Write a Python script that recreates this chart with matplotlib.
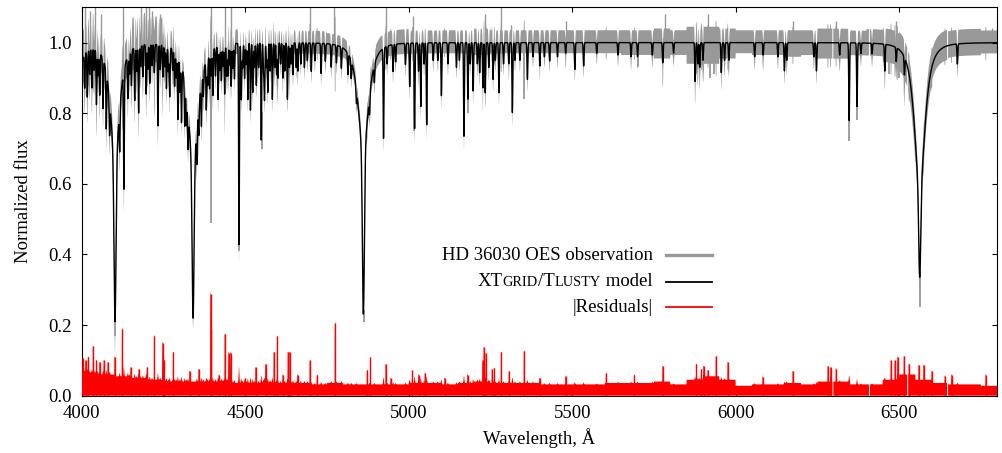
import numpy as np
import matplotlib.pyplot as plt
from matplotlib.lines import Line2D
from matplotlib.offsetbox import TextArea, HPacker, DrawingArea, AnchoredOffsetbox

plt.rcParams['font.family'] = ['Liberation Serif', 'DejaVu Serif']
plt.rcParams['font.size'] = 13.5

# Balmer lines: centre, wing depth / half width, core depth / sigma
balmer_wl = [3970.1, 4101.7, 4340.5, 4861.3, 6562.8]
balmer_wing = [0.25, 0.32, 0.32, 0.30, 0.41]
balmer_wwid = [22.0, 22.0, 26.0, 25.0, 24.7]
balmer_core = [0.30, 0.47, 0.46, 0.47, 0.255]
balmer_csig = [3.0, 3.0, 3.0, 3.0, 3.0]

# metal / helium lines of the model (centre, depth)
metal_wl = [4009, 4017, 4024, 4031, 4038, 4045, 4050, 4055, 4065, 4075, 4085,
            4116, 4129, 4141, 4146, 4152, 4162, 4168, 4174, 4180, 4187, 4197,
            4202, 4208, 4215, 4222, 4233, 4240, 4248, 4254, 4259, 4265, 4269,
            4278, 4284, 4289, 4294, 4300, 4305, 4315, 4320, 4325, 4352, 4358,
            4366, 4372, 4381, 4385, 4391, 4396, 4401, 4409, 4417, 4422, 4427,
            4432, 4437, 4443, 4447, 4452, 4457, 4462, 4467, 4481, 4488, 4492,
            4498, 4503, 4508, 4516, 4523, 4528, 4534, 4541, 4549, 4556, 4559,
            4565, 4569, 4576, 4583, 4590, 4596, 4600, 4608, 4615, 4621, 4629,
            4635, 4640, 4646, 4656, 4661, 4670, 4681, 4690, 4702, 4713, 4732,
            4745, 4763, 4779, 4794, 4814, 4824, 4840, 4880, 4895, 4923, 4934,
            4952, 4960, 4990, 5003, 5018, 5030, 5037, 5047, 5055, 5075, 5089,
            5100, 5120, 5146, 5155, 5169, 5181, 5188, 5197, 5210, 5217, 5227,
            5234, 5245, 5258, 5265, 5276, 5290, 5306, 5317, 5325, 5340, 5363,
            5380, 5401, 5415, 5431, 5455, 5480, 5508, 5535, 5575, 5640, 5680,
            5700, 5745, 5777, 5810, 5876, 5884, 5890, 5900, 5956, 5966, 5979,
            6058, 6084, 6129, 6149, 6156, 6239, 6247, 6318, 6347, 6371, 6383,
            6417, 6456, 6491, 6516, 6678]
metal_depth = [0.095, 0.13, 0.07, 0.11, 0.06, 0.155, 0.07, 0.12, 0.14, 0.16, 0.10,
               0.12, 0.335, 0.12, 0.06, 0.10, 0.15, 0.07, 0.19, 0.06, 0.09, 0.14,
               0.07, 0.11, 0.06, 0.08, 0.23, 0.07, 0.09, 0.06, 0.12, 0.07, 0.14,
               0.06, 0.10, 0.07, 0.18, 0.09, 0.16, 0.12, 0.08, 0.10, 0.10, 0.08,
               0.12, 0.07, 0.14, 0.08, 0.10, 0.07, 0.13, 0.08, 0.15, 0.07, 0.10,
               0.06, 0.14, 0.09, 0.09, 0.06, 0.12, 0.07, 0.10, 0.57, 0.16, 0.07,
               0.10, 0.06, 0.16, 0.19, 0.14, 0.07, 0.12, 0.07, 0.275, 0.08, 0.16,
               0.07, 0.14, 0.08, 0.16, 0.07, 0.09, 0.10, 0.06, 0.10, 0.08, 0.16,
               0.07, 0.06, 0.09, 0.07, 0.08, 0.06, 0.07, 0.05, 0.08, 0.05, 0.085,
               0.05, 0.065, 0.05, 0.06, 0.06, 0.05, 0.04, 0.05, 0.05, 0.255, 0.05,
               0.076, 0.05, 0.06, 0.123, 0.242, 0.08, 0.18, 0.06, 0.232, 0.05, 0.05,
               0.15, 0.06, 0.07, 0.05, 0.265, 0.16, 0.06, 0.137, 0.06, 0.085, 0.128,
               0.142, 0.07, 0.104, 0.05, 0.142, 0.06, 0.06, 0.198, 0.05, 0.05, 0.104,
               0.04, 0.066, 0.04, 0.052, 0.04, 0.03, 0.076, 0.066, 0.03, 0.035, 0.04,
               0.04, 0.035, 0.057, 0.03, 0.11, 0.06, 0.07, 0.05, 0.085, 0.05, 0.05,
               0.04, 0.035, 0.04, 0.08, 0.05, 0.04, 0.08, 0.035, 0.22, 0.18, 0.03,
               0.03, 0.076, 0.04, 0.05, 0.057]
metal_sigma = 1.2

# typical |residual| level in 50 A bins, 4000 ... 6800
res_env = [0.065, 0.060, 0.055, 0.050, 0.045, 0.040, 0.040, 0.040, 0.040, 0.036,
           0.036, 0.038, 0.036, 0.036, 0.032, 0.036, 0.032, 0.032, 0.032, 0.032,
           0.036, 0.036, 0.032, 0.036, 0.040, 0.036, 0.036, 0.036, 0.032, 0.032,
           0.032, 0.032, 0.036, 0.036, 0.036, 0.040, 0.032, 0.045, 0.055, 0.045,
           0.028, 0.032, 0.032, 0.036, 0.032, 0.040, 0.040, 0.032, 0.032, 0.045,
           0.060, 0.045, 0.036, 0.032, 0.032, 0.028]

# spread of the observation above / below the model, same 50 A bins
obs_hi = [0.08, 0.06, 0.06, 0.09, 0.08, 0.05, 0.035, 0.05, 0.045, 0.04,
          0.04, 0.04, 0.035, 0.035, 0.035, 0.03, 0.03, 0.035, 0.04, 0.04,
          0.035, 0.035, 0.035, 0.035, 0.04, 0.035, 0.035, 0.035, 0.035, 0.035,
          0.035, 0.035, 0.035, 0.035, 0.035, 0.04, 0.035, 0.045, 0.045, 0.04,
          0.035, 0.035, 0.035, 0.035, 0.035, 0.04, 0.04, 0.035, 0.04, 0.045,
          0.05, 0.05, 0.045, 0.04, 0.04, 0.035]
obs_lo = [0.07, 0.05, 0.05, 0.06, 0.05, 0.04, 0.03, 0.04, 0.035, 0.03,
          0.03, 0.03, 0.03, 0.03, 0.03, 0.03, 0.025, 0.03, 0.03, 0.03,
          0.03, 0.03, 0.03, 0.03, 0.035, 0.03, 0.03, 0.03, 0.03, 0.03,
          0.03, 0.03, 0.03, 0.035, 0.035, 0.045, 0.035, 0.06, 0.06, 0.045,
          0.03, 0.035, 0.035, 0.04, 0.035, 0.045, 0.045, 0.035, 0.035, 0.05,
          0.06, 0.05, 0.04, 0.035, 0.035, 0.03]

# isolated residual spikes
spike_wl = [4003, 4012, 4020, 4035, 4045, 4055, 4068, 4080, 4101, 4124, 4150, 4175,
            4200, 4222, 4247, 4252, 4280, 4330, 4358, 4394, 4396, 4420, 4438, 4449,
            4455, 4500, 4532, 4562, 4588, 4598, 4615, 4631, 4636, 4660, 4698, 4720,
            4775, 4873, 4883, 4930, 4945, 5011, 5030, 5050, 5110, 5180, 5226, 5230,
            5236, 5255, 5262, 5283, 5307, 5353, 5400, 5480, 5604, 5690, 5777, 5880,
            5895, 5902, 5915, 5940, 5976, 6083, 6175, 6282, 6290, 6307, 6475, 6487,
            6495, 6515, 6530, 6560, 6575, 6600, 6640, 6660, 6765]
spike_res = [0.106, 0.10, 0.11, 0.14, 0.10, 0.095, 0.10, 0.095, 0.11, 0.19, 0.08, 0.075,
             0.08, 0.17, 0.15, 0.10, 0.124, 0.07, 0.075, 0.289, 0.19, 0.06, 0.175, 0.122,
             0.122, 0.05, 0.08, 0.09, 0.124, 0.168, 0.06, 0.124, 0.124, 0.06, 0.10, 0.06,
             0.205, 0.073, 0.109, 0.09, 0.05, 0.072, 0.06, 0.065, 0.05, 0.06, 0.10, 0.137,
             0.12, 0.075, 0.078, 0.124, 0.07, 0.127, 0.05, 0.055, 0.065, 0.06, 0.084, 0.09,
             0.075, 0.084, 0.073, 0.112, 0.095, 0.054, 0.07, 0.084, 0.08, 0.077, 0.10, 0.10,
             0.11, 0.112, 0.09, 0.087, 0.087, 0.07, 0.057, 0.06, 0.06]

# observed points far above the model (cosmics) and below it
up_wl = [4010, 4025, 4040, 4060, 4126, 4180, 4195, 4205, 4215, 4240, 4395, 4438,
         4456, 4697, 4773, 4932, 5012, 5232, 5283, 5312, 5482, 5783, 5914, 6174,
         6306, 6490, 6785]
up_flux = [1.10, 1.09, 1.10, 1.08, 1.10, 1.10, 1.10, 1.10, 1.09, 1.08, 1.10, 1.10,
           1.10, 1.10, 1.10, 1.10, 1.075, 1.08, 1.10, 1.05, 1.06, 1.08, 1.08, 1.06,
           1.06, 1.06, 1.04]
down_wl = [4101.7, 4129, 4394, 4481, 4550, 4862, 5016, 5181, 5353, 5700, 5874,
           5920, 5935, 6347, 6371, 6470, 6500, 6520, 6562.8]
down_flux = [0.17, 0.62, 0.49, 0.41, 0.70, 0.21, 0.75, 0.80, 0.84, 0.93, 0.89,
             0.90, 0.91, 0.72, 0.78, 0.91, 0.90, 0.92, 0.25]

# gaps in the observed spectrum
gap_wl = [6297, 6409, 6526, 6648]


def model_flux(w):
    prof = np.zeros_like(w, dtype=float)
    for c, d, g, dc, s in zip(balmer_wl, balmer_wing, balmer_wwid, balmer_core, balmer_csig):
        prof += d / (1 + ((w - c) / g) ** 2) ** 1.5
        prof += dc * np.exp(-0.5 * ((w - c) / s) ** 2)
    met = np.zeros_like(w, dtype=float)
    for c, d in zip(metal_wl, metal_depth):
        met += d * np.exp(-0.5 * ((w - c) / metal_sigma) ** 2)
    return 1 - prof - met, met


wl = np.arange(3990, 6810, 0.5)
model, met = model_flux(wl)
idx = np.clip(((wl - 4000) // 50).astype(int), 0, len(res_env) - 1)
res = np.array(res_env)[idx] + 0.08 * met
for c, h in zip(spike_wl, spike_res):
    near = np.abs(wl - c) <= 1.0
    res[near] = np.maximum(res[near], h)
hi = model + np.array(obs_hi)[idx] + 0.3 * (res - np.array(res_env)[idx])
lo = model - np.array(obs_lo)[idx] - 0.6 * (res - np.array(res_env)[idx])
for g in gap_wl:
    gap = np.abs(wl - g) < 1.5
    res[gap] = np.nan
    hi[gap] = np.nan
    lo[gap] = np.nan

fig = plt.figure(figsize=(10.03, 4.53), dpi=100)
ax = fig.add_axes([0.0815, 0.1265, 0.9128, 0.8574])

gray = '#999999'
ax.fill_between(wl, lo, hi, color=gray, lw=0, zorder=1)
ax.vlines(up_wl, model_flux(np.array(up_wl, dtype=float))[0], up_flux, color=gray, lw=1.0, zorder=1)
ax.vlines(down_wl, down_flux, model_flux(np.array(down_wl, dtype=float))[0], color=gray, lw=1.3, zorder=1)
ax.plot(wl, model, color='black', lw=1.0, zorder=2)
ax.fill_between(wl, 0, res, color='red', lw=0, zorder=3)
ax.vlines(spike_wl, 0, spike_res, color='red', lw=1.0, zorder=3)

ax.set_xlim(4000, 6800)
ax.set_ylim(0, 1.1)
ax.set_xticks(np.arange(4000, 6501, 500))
ax.set_yticks(np.arange(0, 1.01, 0.2))
ax.yaxis.set_major_formatter(plt.FormatStrFormatter('%.1f'))
ax.tick_params(direction='in', top=True, right=True, length=3.6, width=0.8, pad=7)
for s in ax.spines.values():
    s.set_linewidth(0.8)
ax.set_xlabel('Wavelength, Å', labelpad=4)
ax.set_ylabel('Normalized flux', labelpad=12)

# gnuplot-like legend, text left of the sample lines
rows = [
    ([('HD 36030 OES observation', 13.5)], gray, 2.4, 0.362),
    ([('XT', 13.5), ('GRID', 10.4), ('/T', 13.5), ('LUSTY', 10.4), (' model', 13.5)], 'black', 1.3, 0.293),
    ([('|Residuals|', 13.5)], 'red', 1.3, 0.228),
]
for parts, col, lw, yc in rows:
    texts = [TextArea(t, textprops=dict(fontsize=fs)) for t, fs in parts]
    label = HPacker(children=texts, align='baseline', pad=0, sep=0)
    da = DrawingArea(33, 12, 0, 0)
    da.add_artist(Line2D([0, 33], [6, 6], color=col, lw=lw))
    row = HPacker(children=[label, da], align='center', pad=0, sep=9.4)
    box = AnchoredOffsetbox(loc='center right', child=row, pad=0, borderpad=0,
                            frameon=False, bbox_to_anchor=(0.688, yc),
                            bbox_transform=ax.transAxes)
    ax.add_artist(box)

fig.savefig('out.png', dpi=100)
